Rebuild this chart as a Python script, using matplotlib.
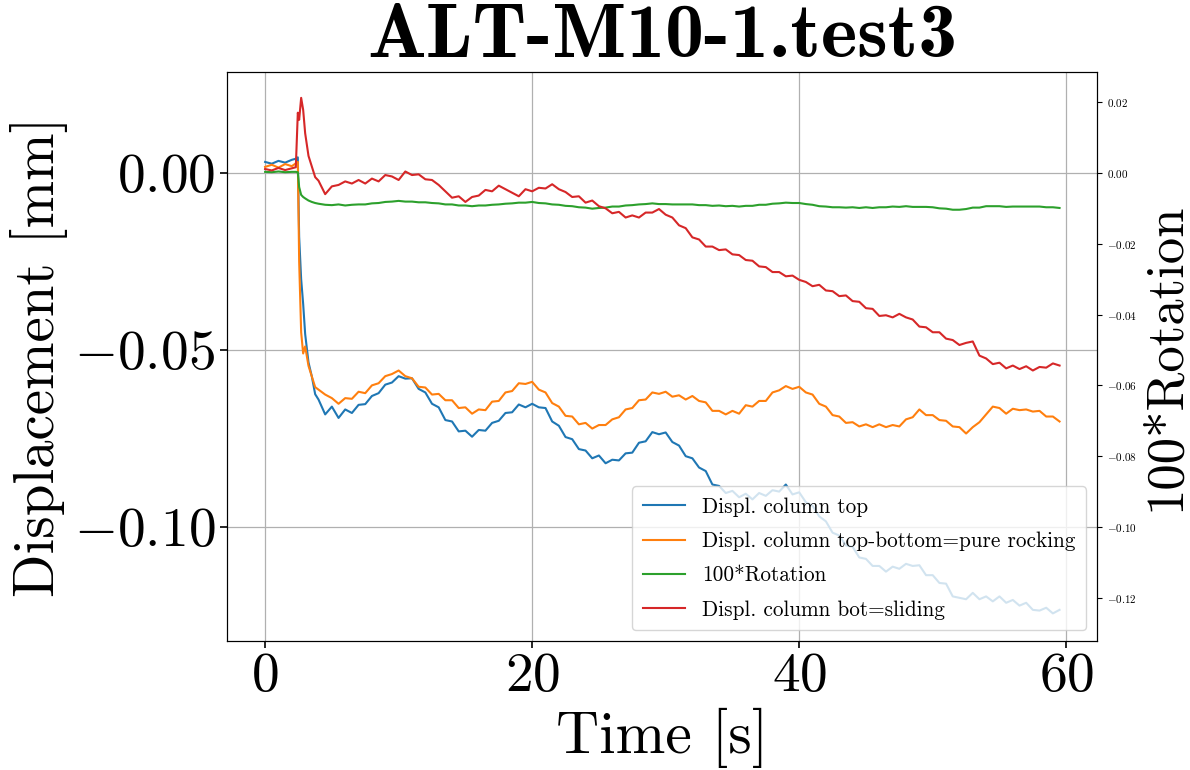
import matplotlib
matplotlib.use("Agg")
import matplotlib.pyplot as plt

plt.rcParams.update({
    "font.family": "serif",
    "font.serif": ["cmr10"],
    "mathtext.fontset": "cm",
    "axes.formatter.use_mathtext": True,
    "axes.unicode_minus": True,
})

# Time axis [s]
time_s = [0.0, 0.5, 1.0, 1.5, 2.0, 2.3, 2.45, 2.55, 2.7, 2.85, 3.0, 3.25, 3.5, 3.75,
          4.0, 4.5, 5.0, 5.5, 6.0, 6.5, 7.0, 7.5, 8.0, 8.5, 9.0, 9.5,
          10.0, 10.5, 11.0, 11.5, 12.0, 12.5, 13.0, 13.5, 14.0, 14.5, 15.0, 15.5,
          16.0, 16.5, 17.0, 17.5, 18.0, 18.5, 19.0, 19.5, 20.0, 20.5, 21.0, 21.5,
          22.0, 22.5, 23.0, 23.5, 24.0, 24.5, 25.0, 25.5, 26.0, 26.5, 27.0, 27.5,
          28.0, 28.5, 29.0, 29.5, 30.0, 30.5, 31.0, 31.5, 32.0, 32.5, 33.0, 33.5,
          34.0, 34.5, 35.0, 35.5, 36.0, 36.5, 37.0, 37.5, 38.0, 38.5, 39.0, 39.5,
          40.0, 40.5, 41.0, 41.5, 42.0, 42.5, 43.0, 43.5, 44.0, 44.5, 45.0, 45.5,
          46.0, 46.5, 47.0, 47.5, 48.0, 48.5, 49.0, 49.5, 50.0, 50.5, 51.0, 51.5,
          52.0, 52.5, 53.0, 53.5, 54.0, 54.5, 55.0, 55.5, 56.0, 56.5, 57.0, 57.5,
          58.0, 58.5, 59.0, 59.5]

# Displacement of the column top [mm]
displ_top = [0.0031, 0.0026, 0.0034, 0.0029, 0.0037, 0.0040, 0.0044, -0.0180, -0.0300, -0.0370, -0.0455, -0.0535, -0.0575, -0.0625,
             -0.0640, -0.0682, -0.0660, -0.0692, -0.0668, -0.0678, -0.0655, -0.0653, -0.0630, -0.0622, -0.0598, -0.0592,
             -0.0574, -0.0581, -0.0580, -0.0610, -0.0620, -0.0652, -0.0662, -0.0698, -0.0702, -0.0730, -0.0728, -0.0745,
             -0.0726, -0.0728, -0.0706, -0.0700, -0.0678, -0.0676, -0.0654, -0.0662, -0.0652, -0.0662, -0.0664, -0.0702,
             -0.0714, -0.0746, -0.0752, -0.0780, -0.0784, -0.0806, -0.0798, -0.0820, -0.0810, -0.0812, -0.0792, -0.0790,
             -0.0762, -0.0758, -0.0732, -0.0738, -0.0733, -0.0760, -0.0770, -0.0800, -0.0806, -0.0832, -0.0842, -0.0880,
             -0.0884, -0.0904, -0.0898, -0.0916, -0.0906, -0.0922, -0.0904, -0.0912, -0.0896, -0.0900, -0.0880, -0.0908,
             -0.0902, -0.0930, -0.0940, -0.0970, -0.0984, -0.1016, -0.1024, -0.1052, -0.1056, -0.1086, -0.1090, -0.1110,
             -0.1110, -0.1126, -0.1112, -0.1118, -0.1104, -0.1110, -0.1108, -0.1136, -0.1136, -0.1158, -0.1160, -0.1196,
             -0.1200, -0.1204, -0.1186, -0.1204, -0.1196, -0.1210, -0.1196, -0.1214, -0.1206, -0.1222, -0.1214, -0.1234,
             -0.1236, -0.1228, -0.1244, -0.1234]

# Top minus bottom displacement = pure rocking [mm]
displ_rocking = [0.0017, 0.0023, 0.0015, 0.0025, 0.0019, 0.0027, 0.0031, -0.0250, -0.0450, -0.0510, -0.0490, -0.0545, -0.0575, -0.0605,
                 -0.0612, -0.0626, -0.0636, -0.0652, -0.0636, -0.0638, -0.0618, -0.0622, -0.0600, -0.0594, -0.0574, -0.0568,
                 -0.0558, -0.0574, -0.0580, -0.0604, -0.0606, -0.0626, -0.0624, -0.0642, -0.0642, -0.0664, -0.0662, -0.0680,
                 -0.0668, -0.0670, -0.0646, -0.0644, -0.0620, -0.0616, -0.0594, -0.0596, -0.0590, -0.0612, -0.0620, -0.0650,
                 -0.0660, -0.0686, -0.0688, -0.0710, -0.0706, -0.0722, -0.0712, -0.0712, -0.0696, -0.0690, -0.0668, -0.0664,
                 -0.0642, -0.0640, -0.0620, -0.0624, -0.0618, -0.0632, -0.0628, -0.0640, -0.0630, -0.0644, -0.0648, -0.0672,
                 -0.0672, -0.0682, -0.0672, -0.0680, -0.0656, -0.0660, -0.0644, -0.0644, -0.0620, -0.0614, -0.0602, -0.0610,
                 -0.0604, -0.0620, -0.0626, -0.0652, -0.0660, -0.0684, -0.0688, -0.0706, -0.0704, -0.0716, -0.0710, -0.0718,
                 -0.0710, -0.0718, -0.0712, -0.0716, -0.0696, -0.0690, -0.0668, -0.0684, -0.0684, -0.0698, -0.0700, -0.0716,
                 -0.0718, -0.0736, -0.0718, -0.0704, -0.0682, -0.0660, -0.0664, -0.0680, -0.0666, -0.0670, -0.0668, -0.0674,
                 -0.0672, -0.0688, -0.0688, -0.0702]

# Base rotation scaled by 100
rotation_x100 = [0.0003, 0.0002, 0.0004, 0.0002, 0.0003, 0.0003, 0.0002, -0.0040, -0.0062, -0.0068, -0.0072, -0.0078, -0.0082, -0.0085,
                 -0.0087, -0.0090, -0.0091, -0.0089, -0.0092, -0.0090, -0.0089, -0.0089, -0.0086, -0.0085, -0.0082, -0.0081,
                 -0.0079, -0.0081, -0.0081, -0.0083, -0.0083, -0.0085, -0.0086, -0.0089, -0.0089, -0.0092, -0.0092, -0.0094,
                 -0.0092, -0.0092, -0.0090, -0.0089, -0.0087, -0.0086, -0.0084, -0.0084, -0.0082, -0.0085, -0.0086, -0.0089,
                 -0.0090, -0.0093, -0.0094, -0.0097, -0.0098, -0.0101, -0.0099, -0.0098, -0.0095, -0.0095, -0.0092, -0.0091,
                 -0.0089, -0.0088, -0.0086, -0.0088, -0.0088, -0.0089, -0.0089, -0.0089, -0.0089, -0.0091, -0.0091, -0.0093,
                 -0.0092, -0.0094, -0.0093, -0.0095, -0.0093, -0.0093, -0.0090, -0.0090, -0.0087, -0.0086, -0.0084, -0.0085,
                 -0.0085, -0.0088, -0.0090, -0.0094, -0.0095, -0.0097, -0.0097, -0.0098, -0.0097, -0.0099, -0.0097, -0.0099,
                 -0.0097, -0.0097, -0.0095, -0.0096, -0.0094, -0.0096, -0.0096, -0.0096, -0.0097, -0.0100, -0.0101, -0.0104,
                 -0.0104, -0.0102, -0.0098, -0.0098, -0.0094, -0.0094, -0.0094, -0.0096, -0.0095, -0.0095, -0.0095, -0.0095,
                 -0.0095, -0.0097, -0.0097, -0.0099]

# Displacement of the column bottom = sliding [mm]
displ_sliding = [0.0011, 0.0007, 0.0014, 0.0008, 0.0013, 0.0016, 0.0170, 0.0150, 0.0212, 0.0178, 0.0112, 0.0048, 0.0018, -0.0012,
                 -0.0022, -0.0060, -0.0038, -0.0034, -0.0024, -0.0030, -0.0020, -0.0030, -0.0016, -0.0024, -0.0006, -0.0010,
                 -0.0020, 0.0004, -0.0006, -0.0004, -0.0018, -0.0020, -0.0034, -0.0052, -0.0070, -0.0066, -0.0082, -0.0068,
                 -0.0064, -0.0048, -0.0052, -0.0036, -0.0046, -0.0056, -0.0066, -0.0046, -0.0052, -0.0042, -0.0044, -0.0032,
                 -0.0046, -0.0054, -0.0068, -0.0066, -0.0084, -0.0078, -0.0094, -0.0100, -0.0114, -0.0110, -0.0126, -0.0120,
                 -0.0126, -0.0112, -0.0112, -0.0102, -0.0118, -0.0126, -0.0148, -0.0156, -0.0182, -0.0188, -0.0208, -0.0208,
                 -0.0218, -0.0216, -0.0230, -0.0232, -0.0246, -0.0248, -0.0264, -0.0266, -0.0280, -0.0280, -0.0292, -0.0290,
                 -0.0302, -0.0308, -0.0320, -0.0316, -0.0332, -0.0334, -0.0348, -0.0346, -0.0362, -0.0364, -0.0382, -0.0384,
                 -0.0404, -0.0402, -0.0408, -0.0398, -0.0408, -0.0414, -0.0434, -0.0436, -0.0450, -0.0450, -0.0468, -0.0472,
                 -0.0486, -0.0480, -0.0476, -0.0516, -0.0524, -0.0540, -0.0536, -0.0552, -0.0544, -0.0554, -0.0546, -0.0558,
                 -0.0548, -0.0550, -0.0538, -0.0544]

series_labels = ["Displ. column top",
                 "Displ. column top-bottom=pure rocking",
                 "100*Rotation",
                 "Displ. column bot=sliding"]
series_colors = ["tab:blue", "tab:orange", "tab:green", "tab:red"]

x_ticks = [0, 20, 40, 60]
y_ticks = [0.0, -0.05, -0.10]

fig, ax = plt.subplots(figsize=(11.9, 7.7), dpi=100)
fig.subplots_adjust(left=0.1908, right=0.9218, top=0.9065, bottom=0.1675)

for values, label, color in zip([displ_top, displ_rocking, rotation_x100, displ_sliding],
                                series_labels, series_colors):
    ax.plot(time_s, values, color=color, lw=1.5, label=label)

ax.set_xlim(-2.85, 62.3)
ax.set_ylim(-0.1322, 0.0285)
ax.set_xticks(x_ticks)
ax.set_yticks(y_ticks)
ax.grid(True, color="#b0b0b0", lw=0.9)
ax.tick_params(labelsize=40, length=5, width=1.2)
ax.set_xlabel("Time [s]", fontsize=43)
ax.set_ylabel("Displacement [mm]", fontsize=41)
ax.set_title("ALT-M10-1.test3", fontsize=56, fontfamily="cmb10", pad=6)

ax2 = ax.twinx()
ax2.set_ylim(ax.get_ylim())
ax2.tick_params(labelsize=8)
ax2.set_ylabel("100*Rotation", fontsize=38)

ax.legend(loc="lower right", fontsize=15.3, labelspacing=0.7, borderpad=0.5)

fig.savefig("out.png", dpi=100)
